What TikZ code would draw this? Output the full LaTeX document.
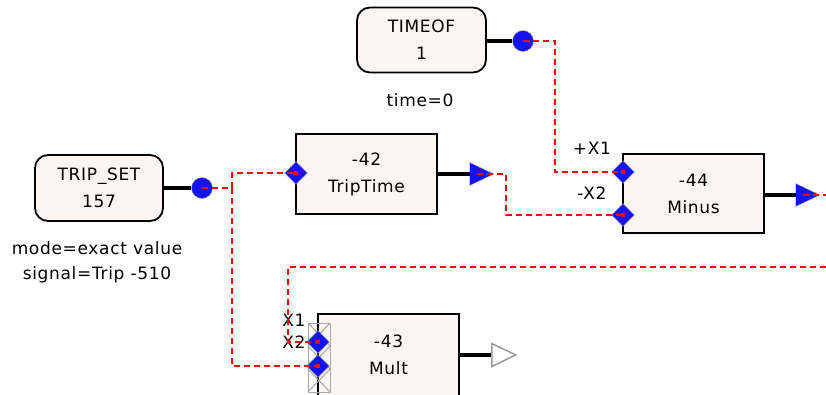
\documentclass[tikz,border=0pt]{standalone}
\usepackage{fontspec}
\setmainfont{DejaVu Sans}[LetterSpace=4]
\usetikzlibrary{shapes.geometric}
\definecolor{blockfill}{RGB}{253,244,244}
\definecolor{portblue}{RGB}{20,20,240}

\begin{document}
\begin{tikzpicture}[x=1pt, y=-1pt, font=\fontsize{17}{27}\selectfont,
  block/.style={draw, line width=1.8pt, fill=blockfill, align=center, inner sep=0pt},
  srcport/.style={circle, fill=portblue, draw=gray!70, inner sep=0pt, minimum size=21pt},
  inport/.style={diamond, fill=portblue, draw=gray!70, inner sep=0pt, minimum size=23pt,
    path picture={\fill[red] ([shift={(-2pt,-2pt)}]path picture bounding box.center) rectangle ++(4pt,4pt);}},
  outport/.style={isosceles triangle, isosceles triangle stretches, fill=portblue, draw=gray!70,
    inner sep=0pt, minimum width=23pt, minimum height=24pt},
  wire/.style={red, line width=1.4pt, dash pattern=on 6pt off 4pt},
  link/.style={line width=3.2pt}]
\useasboundingbox (0,0) rectangle (826,394);
\clip (0,0) rectangle (826,394);

% blocks
\node [block, rounded corners=13pt, minimum width=129pt, minimum height=65pt] (timeof) at (421.5,40) {TIMEOF\\1};
\node [block, rounded corners=13pt, minimum width=128pt, minimum height=66pt] (tripset) at (99,188) {TRIP\_SET\\157};
\node [block, minimum width=141pt, minimum height=80pt] (triptime) at (366.5,174) {-42\\TripTime};
\node [block, minimum width=141pt, minimum height=79pt] (minus) at (693.5,193.5) {-44\\Minus};
\node [block, minimum width=141pt, minimum height=82pt] (mult) at (388.5,355) {-43\\Mult};

% parameter texts
\node (ptime) at (420,100) {time=0};
\node (pmode) at (97,248) {mode=exact value};
\node (psig) at (97,275) {signal=Trip -510};
\node (lpx1) at (592,148) {+X1};
\node (lmx2) at (592,193) {-X2};

% grey strip at Mult inputs
\draw [gray!70, line width=1pt] (308,323) rectangle (330,392);
\foreach \y in {323,346,369}
  \draw [gray!70, line width=1pt] (308,\y) -- (330,\y+23) (330,\y) -- (308,\y+23);

% ports
\node [srcport] (tsout) at (202,188) {};
\node [srcport] (tfout) at (523,41) {};
\node [inport] (ttin) at (296,173) {};
\node [inport] (mnx1) at (623,172) {};
\node [inport] (mnx2) at (623,215) {};
\node [inport] (multa) at (318,342) {};
\node [inport] (multb) at (318,366) {};
\node [outport] (ttout) at (477,174) {};
\node [outport] (mnout) at (803,195) {};
\node [outport, fill=white, draw=gray!80, line width=1.5pt] (muout) at (499,355) {};

\node (lx1) at (294,320) {X1};
\node (lx2) at (294,342) {X2};

% block to port
\draw [link] (timeof.east |- tfout) -- (tfout.west);
\draw [link] (tripset.east |- tsout) -- (tsout.west);
\draw [link] (triptime.east |- ttout) -- (ttout.west);
\draw [link] (minus.east |- mnout) -- (mnout.west);
\draw [link] (mult.east |- muout) -- (muout.west);

% signal wires
\coordinate (jct) at (232,188);
\coordinate (far) at (826,267);
\coordinate (rim) at (826,195);
\draw [wire] (tfout.center) -- (555,41) |- (mnx1.center);
\draw [wire] (tsout.center) -- (jct) |- (ttin.center);
\draw [wire] (jct) |- (multb.center);
\draw [wire] (ttout.center) -- (506,174) |- (mnx2.center);
\draw [wire] (far) -- (288,267) |- (multa.center);
\draw [wire] (mnout.center) -- (rim);
\end{tikzpicture}
\end{document}
